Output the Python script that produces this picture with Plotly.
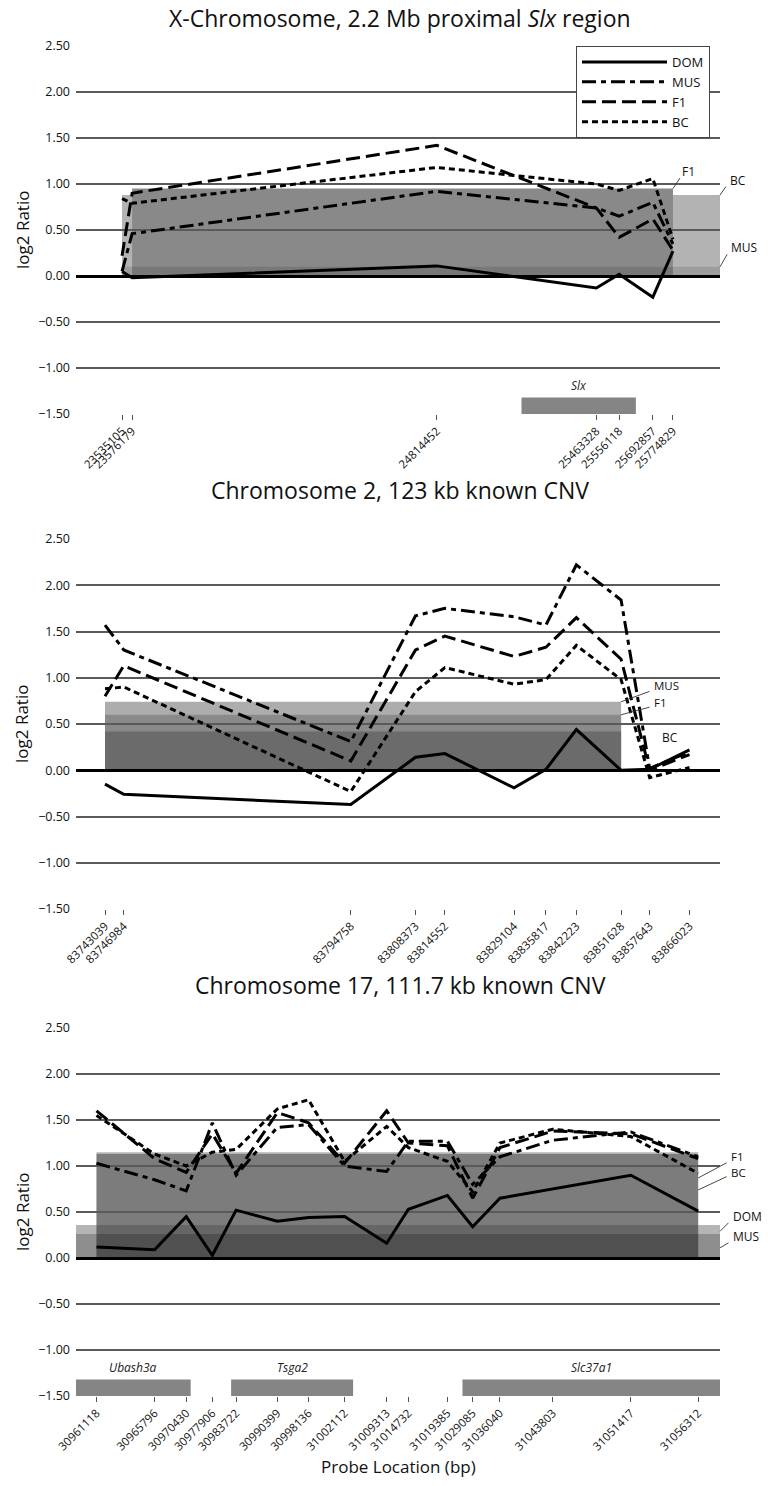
import plotly.graph_objects as go

W, H = 768, 1486

# ---------------- data ----------------
SERIES = ["DOM", "MUS", "F1", "BC"]

# Panel 1: X chromosome
P1_PROBES = [23535105, 23576179, 24814452, 25463328, 25556118, 25692857, 25774829]
P1_DOM = [0.05, -0.02, 0.11, -0.13, 0.02, -0.23, 0.27]
P1_MUS = [0.05, 0.46, 0.92, 0.74, 0.65, 0.80, 0.35]
P1_F1 = [0.22, 0.90, 1.42, 0.74, 0.42, 0.62, 0.28]
P1_BC = [0.84, 0.79, 1.18, 1.00, 0.93, 1.06, 0.40]
P1_RANGE = [23348000, 25966000]
P1_SEG_NAMES = ["BC", "F1", "MUS"]
P1_SEG_START = [23535105, 23576179, 23535105]
P1_SEG_END = [25966000, 25774829, 25966000]
P1_SEG_LEVEL = [0.88, 0.95, 0.10]
P1_GENES = ["Slx"]
P1_GENE_START = [25159000]
P1_GENE_END = [25624000]

# Panel 2: chromosome 2
P2_PROBES = [83743039, 83746984, 83794758, 83808373, 83814552, 83829104,
             83835817, 83842223, 83851628, 83857643, 83866023]
P2_DOM = [-0.15, -0.26, -0.37, 0.14, 0.18, -0.19, 0.01, 0.44, 0.00, 0.01, 0.22]
P2_MUS = [1.57, 1.30, 0.31, 1.67, 1.75, 1.66, 1.57, 2.22, 1.84, 0.02, 0.20]
P2_F1 = [0.80, 1.13, 0.10, 1.30, 1.45, 1.23, 1.33, 1.65, 1.20, 0.00, 0.17]
P2_BC = [0.88, 0.90, -0.23, 0.85, 1.11, 0.93, 0.98, 1.35, 0.98, -0.08, 0.03]
P2_RANGE = [83736937, 83872440]
P2_SEG_NAMES = ["MUS", "F1", "BC"]
P2_SEG_START = [83743039, 83743039, 83743039]
P2_SEG_END = [83851628, 83851628, 83851628]
P2_SEG_LEVEL = [0.74, 0.60, 0.42]

# Panel 3: chromosome 17 (probe labels placed along the drawn map, kb)
P3_PROBES = ["30961118", "30965796", "30970430", "30977906", "30983722", "30990399",
             "30998136", "31002112", "31009313", "31014732", "31019385", "31029085",
             "31036040", "31043803", "31051417", "31056312"]
P3_MAP_KB = [0, 9.19, 14.20, 18.33, 22.09, 28.61, 33.55, 39.25, 45.91, 49.35,
             55.52, 59.51, 63.83, 72.20, 84.54, 95.19]
P3_DOM = [0.12, 0.09, 0.45, 0.03, 0.52, 0.40, 0.44, 0.45, 0.16, 0.53, 0.68, 0.34, 0.65, 0.75, 0.90, 0.51]
P3_MUS = [1.03, 0.85, 0.73, 1.47, 0.90, 1.42, 1.45, 1.00, 0.94, 1.27, 1.27, 0.80, 1.10, 1.28, 1.37, 1.10]
P3_F1 = [1.60, 1.08, 0.93, 1.35, 0.92, 1.58, 1.47, 1.03, 1.60, 1.25, 1.22, 0.65, 1.20, 1.38, 1.35, 1.08]
P3_BC = [1.55, 1.13, 1.00, 1.15, 1.18, 1.62, 1.72, 1.05, 1.43, 1.20, 1.05, 0.72, 1.25, 1.40, 1.32, 0.92]
P3_RANGE = [-3.24, 98.64]
P3_SEG_NAMES = ["F1", "BC", "DOM", "MUS"]
P3_SEG_START = [0, 0, -3.24, -3.24]
P3_SEG_END = [95.19, 95.19, 98.64, 98.64]
P3_SEG_LEVEL = [1.15, 1.13, 0.36, 0.26]
P3_GENES = ["Ubash3a", "Tsga2", "Slc37a1"]
P3_GENE_START = [-3.24, 21.3, 57.9]
P3_GENE_END = [14.9, 40.6, 98.64]

Y_TICKS = [-1.5, -1.0, -0.5, 0.0, 0.5, 1.0, 1.5, 2.0, 2.5]

# ---------------- styling ----------------
DASH = {"DOM": "solid", "MUS": "14px,5px,5px,5px", "F1": "14px,6px", "BC": "6px,4px"}
FONT = "Open Sans, Liberation Sans, Arial, sans-serif"

def px(x):
    return x / W

def py(y):
    return 1 - y / H

PLOT_L, PLOT_R = 76, 720
panels = [
    dict(top=46, bot=414, title="X-Chromosome, 2.2 Mb proximal <i>Slx</i> region", ty=18,
         x=P1_PROBES, ticktext=[str(v) for v in P1_PROBES], rng=P1_RANGE,
         data=[P1_DOM, P1_MUS, P1_F1, P1_BC],
         seg=(P1_SEG_NAMES, P1_SEG_START, P1_SEG_END, P1_SEG_LEVEL),
         seg_colors={"BC": "#b3b3b3", "F1": "#898989", "MUS": "rgba(0,0,0,0.12)"},
         genes=(P1_GENES, P1_GENE_START, P1_GENE_END)),
    dict(top=539, bot=909, title="Chromosome 2, 123 kb known CNV", ty=490,
         x=P2_PROBES, ticktext=[str(v) for v in P2_PROBES], rng=P2_RANGE,
         data=[P2_DOM, P2_MUS, P2_F1, P2_BC],
         seg=(P2_SEG_NAMES, P2_SEG_START, P2_SEG_END, P2_SEG_LEVEL),
         seg_colors={"MUS": "#adadad", "F1": "#8a8a8a", "BC": "#6b6b6b"},
         genes=([], [], [])),
    dict(top=1028, bot=1396, title="Chromosome 17, 111.7 kb known CNV", ty=985,
         x=P3_MAP_KB, ticktext=P3_PROBES, rng=P3_RANGE,
         data=[P3_DOM, P3_MUS, P3_F1, P3_BC],
         seg=(P3_SEG_NAMES, P3_SEG_START, P3_SEG_END, P3_SEG_LEVEL),
         seg_colors={"F1": "rgba(0,0,0,0.30)", "BC": "rgba(0,0,0,0.30)",
                     "DOM": "rgba(71,71,71,0.40)", "MUS": "rgba(0,0,0,0.215)"},
         genes=(P3_GENES, P3_GENE_START, P3_GENE_END)),
]

fig = go.Figure()
shapes, annotations = [], []
layout = {}

for i, p in enumerate(panels):
    n = "" if i == 0 else str(i + 1)
    xa, ya = "x" + n, "y" + n
    for s, vals in zip(SERIES, p["data"]):
        fig.add_trace(go.Scatter(
            x=p["x"], y=vals, mode="lines", name=s, xaxis=xa, yaxis=ya,
            line=dict(color="black", width=3, dash=DASH[s]),
            showlegend=(i == 0)))
    layout["xaxis" + n] = dict(
        domain=[px(PLOT_L), px(PLOT_R)], anchor=ya, range=p["rng"], automargin=False,
        tickmode="array", tickvals=p["x"], ticktext=p["ticktext"], tickangle=-45,
        ticks="outside", ticklen=5, tickwidth=1, tickcolor="#555",
        showgrid=False, zeroline=False, showline=False,
        tickfont=dict(family=FONT, size=11.5, color="#111"))
    layout["yaxis" + n] = dict(
        domain=[py(p["bot"]), py(p["top"])], anchor=xa, range=[-1.5, 2.5], automargin=False,
        tickmode="array", tickvals=Y_TICKS, tickformat=".2f",
        showgrid=True, gridcolor="#5a5a5a", gridwidth=1.5,
        zeroline=True, zerolinecolor="black", zerolinewidth=2.5,
        showline=False, ticks="", ticklabelstandoff=5,
        tickfont=dict(family=FONT, size=12.5, color="#111"))
    # segment-mean shading
    names, starts, ends, levels = p["seg"]
    for nm, x0, x1, lv in zip(names, starts, ends, levels):
        shapes.append(dict(type="rect", xref=xa, yref=ya, x0=x0, x1=x1, y0=0, y1=lv,
                           fillcolor=p["seg_colors"][nm], line=dict(width=0), layer="below"))
    # gene boxes
    gnames, gs, ge = p["genes"]
    for g, x0, x1 in zip(gnames, gs, ge):
        shapes.append(dict(type="rect", xref=xa, yref=ya, x0=x0, x1=x1, y0=-1.5, y1=-1.32,
                           fillcolor="#858585", line=dict(width=0), layer="below"))
        annotations.append(dict(xref=xa, yref=ya, x=(x0 + x1) / 2, y=-1.32, text="<i>%s</i>" % g,
                                showarrow=False, yanchor="bottom", yshift=1,
                                font=dict(family=FONT, size=12, color="#222")))
    # titles
    annotations.append(dict(xref="paper", yref="paper", x=px(400), y=py(p["ty"]), text=p["title"],
                            showarrow=False, xanchor="center", yanchor="middle",
                            font=dict(family=FONT, size=23, color="#111")))
    annotations.append(dict(xref="paper", yref="paper", x=px(22), y=py((p["top"] + p["bot"]) / 2),
                            text="log2 Ratio", textangle=-90, showarrow=False,
                            xanchor="center", yanchor="middle",
                            font=dict(family=FONT, size=17, color="#111")))

# right-side region labels with leader lines (anchored on region ends/levels)
def leader(xa, ya, x, y, ax, ay, text, tx=0, ty=0, size=12):
    if ax or ay:
        annotations.append(dict(xref=xa, yref=ya, x=x, y=y, text="", showarrow=True,
                                arrowhead=0, arrowwidth=0.9, arrowcolor="#333",
                                ax=ax, ay=ay))
    annotations.append(dict(xref=xa, yref=ya, x=x, y=y, text=text, showarrow=False,
                            xanchor="left", yanchor="middle", xshift=ax + 1 + tx, yshift=-ay + 5 + ty,
                            font=dict(family=FONT, size=size, color="#111")))

leader("x", "y", P1_SEG_END[1], P1_SEG_LEVEL[1], 8, -12, "F1", -2, 0)
leader("x", "y", P1_SEG_END[0], P1_SEG_LEVEL[0], 7, -10, "BC", 0, 0)
leader("x", "y", P1_SEG_END[2], P1_SEG_LEVEL[2], 8, -14, "MUS", 0, 0)
leader("x2", "y2", P2_SEG_END[0], P2_SEG_LEVEL[0], 30, -11, "MUS", 0, 0, 11.5)
leader("x2", "y2", P2_SEG_END[1], P2_SEG_LEVEL[1], 30, -8, "F1", 0, -1, 11.5)
leader("x2", "y2", P2_SEG_END[2], 0.35, 0, 0, "BC", 38, -5)
leader("x3", "y3", P3_SEG_END[0], 0.87, 30, -16, "F1", 0, 0, 11.5)
leader("x3", "y3", P3_SEG_END[1], 0.74, 30, -14, "BC", 0, -2, 11.5)
leader("x3", "y3", P3_SEG_END[2], 0.29, 10, -10, "DOM", 0, 0)
leader("x3", "y3", P3_SEG_END[3], 0.11, 10, -6, "MUS", 0, 0)

annotations.append(dict(xref="paper", yref="paper", x=px(398), y=py(1466), text="Probe Location (bp)",
                        showarrow=False, xanchor="center", yanchor="middle",
                        font=dict(family=FONT, size=17, color="#111")))

fig.update_layout(
    width=W, height=H, autosize=False,
    margin=dict(l=0, r=0, t=0, b=0),
    paper_bgcolor="white", plot_bgcolor="rgba(0,0,0,0)",
    shapes=shapes, annotations=annotations,
    legend=dict(x=px(576), y=py(46), xanchor="left", yanchor="top",
                bgcolor="white", bordercolor="#444", borderwidth=1,
                itemwidth=85, tracegroupgap=0,
                font=dict(family=FONT, size=13, color="#111")),
    **layout)

fig.write_html("out.html", config={"displayModeBar": False},
               post_script="document.body.style.margin='0';document.body.style.padding='0';")
